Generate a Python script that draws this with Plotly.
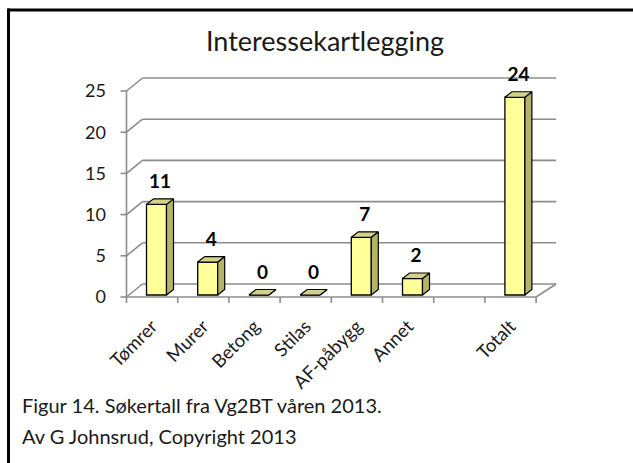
import plotly.graph_objects as go

# ---------------- data ----------------
categories = ["Tømrer", "Murer", "Betong", "Stilas", "AF-påbygg", "Annet", " ", "Totalt"]
values = [11, 4, 0, 0, 7, 2, None, 24]
y_ticks = [0, 5, 10, 15, 20, 25]
title_text = "Interessekartlegging"
caption_lines = ["Figur 14. Søkertall fra Vg2BT våren 2013.", "Av G Johnsrud, Copyright 2013"]

# ---------------- geometry / style (pixels) ----------------
W, H = 633, 463
CAT_PX = 51.2           # pixels per category
X_LEFT_PX = 126.5       # pixel of left boundary of first category (front plane)
UNIT_PX = 8.24          # pixels per value unit
Y_ZERO_PX = 297         # pixel of value 0 on front plane
ML, MR, MT, MB = 119, 73, 62, 158

ux = lambda p: p / CAT_PX
uy = lambda p: p / UNIT_PX

x_lo = -0.5 - ux(X_LEFT_PX - ML)
x_hi = -0.5 + ux((W - MR) - X_LEFT_PX)
y_lo = -uy((H - MB) - Y_ZERO_PX)
y_hi = uy(Y_ZERO_PX - MT)

WALL_DX, WALL_DY = ux(16), uy(13)
BACK_RIGHT = len(categories) - 0.5 + ux(20)
BAR_W = ux(20)
BAR_OFF = ux(-5.6)      # left of front face relative to category centre
BAR_LIFT = uy(2)
DEP_DX, DEP_DY = ux(7), uy(5.5)

GRID = "#8c8c8c"
FRONT = "#ffff99"
SIDE = "#b3b36a"
TOP = "#d2d28a"
FONT = "Lato"

fig = go.Figure()
shapes = []

def seg(x0, y0, x1, y1, color=GRID, width=1.6):
    shapes.append(dict(type="line", xref="x", yref="y", x0=x0, y0=y0, x1=x1, y1=y1,
                       layer="below", line=dict(color=color, width=width)))

xl = -0.5
xr = len(categories) - 0.5
# back wall gridlines
for v in y_ticks:
    seg(xl, v, xl + WALL_DX, v + WALL_DY)
    seg(xl + WALL_DX, v + WALL_DY, BACK_RIGHT, v + WALL_DY)
# floor front edge and right edge
seg(xl, 0, xr, 0)
seg(xr, 0, BACK_RIGHT, WALL_DY)
# y axis line and ticks
seg(xl, 0, xl, y_ticks[-1])
for v in y_ticks:
    seg(xl - ux(6), v, xl, v)
# x tick marks at category boundaries
for k in range(len(categories) + 1):
    b = k - 0.5
    seg(b, 0, b, -uy(6))

# front faces of bars
idx = [i for i, v in enumerate(values) if v is not None]
vals = [values[i] for i in idx]
fig.add_trace(go.Bar(
    x=idx, y=vals, base=BAR_LIFT, width=BAR_W, offset=BAR_OFF,
    marker=dict(color=FRONT, line=dict(color="black", width=1.3)),
    hoverinfo="skip", showlegend=False))

# side and top faces
sx, sy, tx, ty = [], [], [], []
for i, v in zip(idx, vals):
    x0 = i + BAR_OFF
    x1 = x0 + BAR_W
    b = BAR_LIFT
    t = BAR_LIFT + v
    sx += [x1, x1 + DEP_DX, x1 + DEP_DX, x1, x1, None]
    sy += [b, b + DEP_DY, t + DEP_DY, t, b, None]
    tx += [x0, x1, x1 + DEP_DX, x0 + DEP_DX, x0, None]
    ty += [t, t, t + DEP_DY, t + DEP_DY, t, None]
fig.add_trace(go.Scatter(x=sx, y=sy, mode="lines", fill="toself", fillcolor=SIDE,
                         line=dict(color="black", width=1.2), hoverinfo="skip", showlegend=False))
fig.add_trace(go.Scatter(x=tx, y=ty, mode="lines", fill="toself", fillcolor=TOP,
                         line=dict(color="black", width=1.2), hoverinfo="skip", showlegend=False))

# data labels
lx = [i + BAR_OFF + BAR_W / 2 + DEP_DX / 2 for i in idx]
ly = [v + BAR_LIFT + DEP_DY + uy(6) for v in vals]
fig.add_trace(go.Scatter(x=lx, y=ly, mode="text", text=[str(v) for v in vals],
                         textposition="top center", cliponaxis=False,
                         textfont=dict(family=FONT, size=19, color="black", weight="bold"),
                         hoverinfo="skip", showlegend=False))

# frame lines (paper coords computed from pixels)
pw, ph = W - ML - MR, H - MT - MB
px = lambda p: (p - ML) / pw
py = lambda p: (H - MB - p) / ph
shapes.append(dict(type="line", xref="paper", yref="paper", x0=px(7.5), y0=py(10), x1=px(W + 5), y1=py(10),
                   line=dict(color="black", width=3)))
shapes.append(dict(type="line", xref="paper", yref="paper", x0=px(8.5), y0=py(8.5), x1=px(8.5), y1=py(H + 5),
                   line=dict(color="black", width=3)))

annotations = []
for k, line in enumerate(caption_lines):
    annotations.append(dict(text=line, xref="paper", yref="paper", x=px(20), y=py(405 + 31 * k),
                            xanchor="left", yanchor="middle", showarrow=False,
                            font=dict(family=FONT, size=20, color="#1a1a1a")))

fig.update_layout(
    width=W, height=H, margin=dict(l=ML, r=MR, t=MT, b=MB),
    paper_bgcolor="white", plot_bgcolor="white",
    title=dict(text=title_text, xref="container", yref="container", x=325 / W, y=1 - 42 / H,
               xanchor="center", yanchor="middle", font=dict(family=FONT, size=27, color="#1a1a1a")),
    xaxis=dict(range=[x_lo, x_hi], tickvals=list(range(len(categories))), ticktext=categories,
               tickangle=-45, ticks="", showgrid=False, zeroline=False, showline=False,
               ticklabelstandoff=6, tickfont=dict(family=FONT, size=18.5, color="#1a1a1a")),
    yaxis=dict(range=[y_lo, y_hi], tickvals=y_ticks, ticks="", showgrid=False, zeroline=False,
               showline=False, ticklabelstandoff=12, tickfont=dict(family=FONT, size=18, color="#1a1a1a")),
    shapes=shapes, annotations=annotations, showlegend=False,
)

fig.write_html("out.html")
